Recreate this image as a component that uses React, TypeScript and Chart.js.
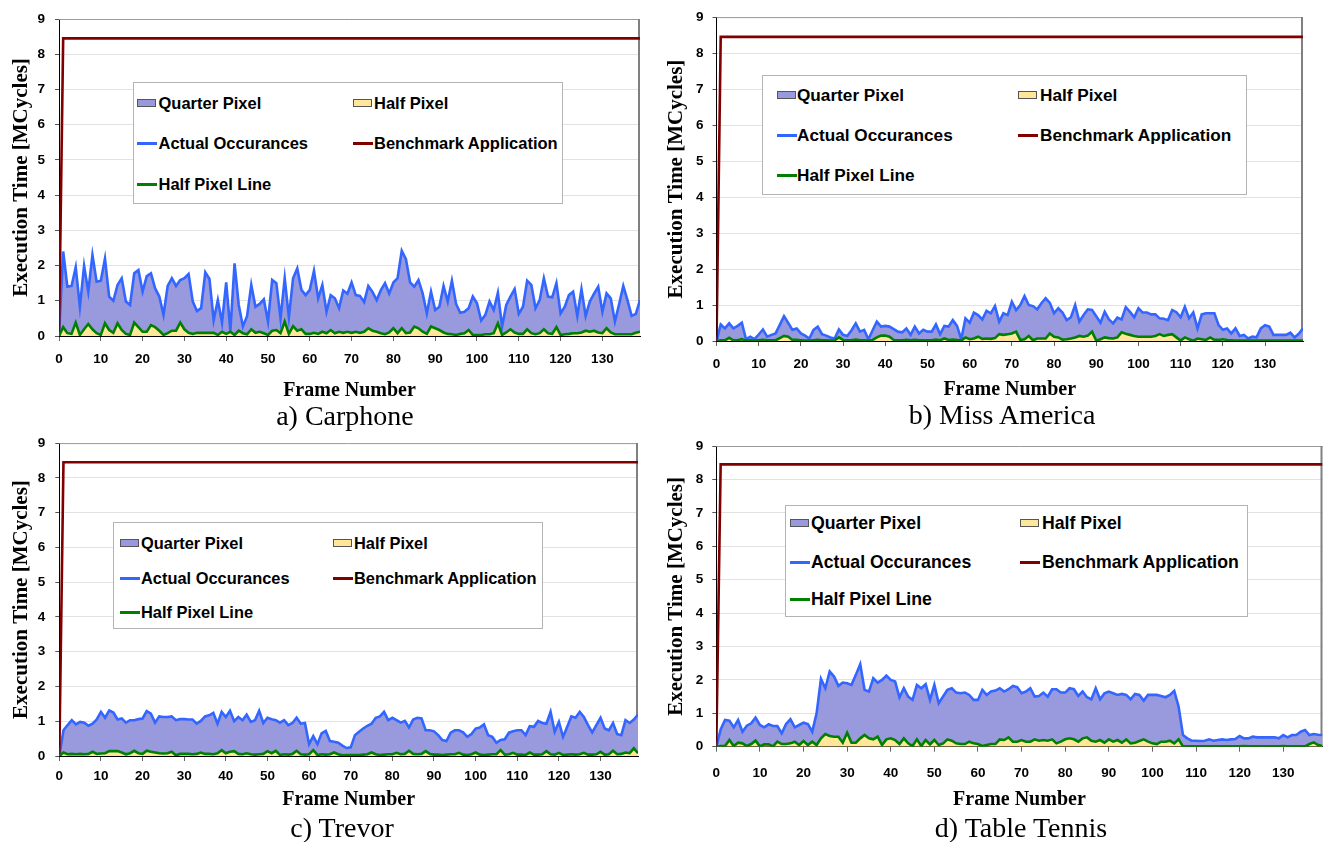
import React, { useEffect, useRef } from 'react';
import { Chart, registerables } from 'chart.js';

Chart.register(...registerables);

// ---------- data ----------
const FRAMES: number[] = Array.from({ length: 140 }, (_, i) => i);
const X_TICKS = [0, 10, 20, 30, 40, 50, 60, 70, 80, 90, 100, 110, 120, 130];
const Y_TICKS = [0, 1, 2, 3, 4, 5, 6, 7, 8, 9];

const LEGEND_LABELS = ['Quarter Pixel', 'Half Pixel', 'Actual Occurances', 'Benchmark Application', 'Half Pixel Line'];

const BENCHMARK = [
  0, 8.45, 8.45, 8.45, 8.45, 8.45, 8.45, 8.45, 8.45, 8.45,
  8.45, 8.45, 8.45, 8.45, 8.45, 8.45, 8.45, 8.45, 8.45, 8.45,
  8.45, 8.45, 8.45, 8.45, 8.45, 8.45, 8.45, 8.45, 8.45, 8.45,
  8.45, 8.45, 8.45, 8.45, 8.45, 8.45, 8.45, 8.45, 8.45, 8.45,
  8.45, 8.45, 8.45, 8.45, 8.45, 8.45, 8.45, 8.45, 8.45, 8.45,
  8.45, 8.45, 8.45, 8.45, 8.45, 8.45, 8.45, 8.45, 8.45, 8.45,
  8.45, 8.45, 8.45, 8.45, 8.45, 8.45, 8.45, 8.45, 8.45, 8.45,
  8.45, 8.45, 8.45, 8.45, 8.45, 8.45, 8.45, 8.45, 8.45, 8.45,
  8.45, 8.45, 8.45, 8.45, 8.45, 8.45, 8.45, 8.45, 8.45, 8.45,
  8.45, 8.45, 8.45, 8.45, 8.45, 8.45, 8.45, 8.45, 8.45, 8.45,
  8.45, 8.45, 8.45, 8.45, 8.45, 8.45, 8.45, 8.45, 8.45, 8.45,
  8.45, 8.45, 8.45, 8.45, 8.45, 8.45, 8.45, 8.45, 8.45, 8.45,
  8.45, 8.45, 8.45, 8.45, 8.45, 8.45, 8.45, 8.45, 8.45, 8.45,
  8.45, 8.45, 8.45, 8.45, 8.45, 8.45, 8.45, 8.45, 8.45, 8.45,
];

const CARPHONE_TOTAL = [
  0, 2.40, 1.40, 1.42, 1.95, 0.83, 1.99, 1.26, 2.30, 1.54,
  1.57, 2.20, 1.12, 1.00, 1.45, 1.64, 0.98, 0.88, 1.78, 1.87,
  1.26, 1.70, 1.78, 1.35, 1.12, 0.60, 1.42, 1.64, 1.42, 1.59,
  1.64, 1.76, 0.98, 0.71, 0.79, 1.81, 1.62, 0.45, 1.02, 0.38,
  1.52, 0.15, 2.06, 0.88, 0.27, 0.57, 1.45, 0.83, 0.91, 1.04,
  0.41, 1.59, 1.50, 0.50, 1.64, 0.53, 1.64, 1.92, 1.31, 1.16,
  1.31, 1.85, 1.07, 1.45, 0.69, 1.16, 1.07, 0.79, 1.29, 1.20,
  1.52, 1.16, 1.14, 0.96, 1.42, 1.25, 1.02, 1.30, 1.50, 1.21,
  1.52, 1.64, 2.42, 2.18, 1.52, 1.40, 1.59, 1.21, 0.64, 1.26,
  0.74, 0.83, 1.42, 0.98, 1.57, 0.91, 0.66, 0.69, 0.79, 1.12,
  0.93, 0.44, 0.60, 0.98, 0.74, 1.23, 0.27, 0.88, 1.12, 1.33,
  0.63, 0.83, 1.57, 1.45, 0.79, 1.02, 1.64, 1.12, 1.10, 1.50,
  0.64, 0.83, 1.16, 1.26, 0.57, 1.33, 0.57, 0.98, 1.20, 1.40,
  0.69, 1.21, 1.07, 0.41, 0.90, 1.42, 1.02, 0.57, 0.63, 1.02,
];
const CARPHONE_HALF = [
  0, 0.25, 0.08, 0.06, 0.38, 0.03, 0.19, 0.34, 0.19, 0.08,
  0.03, 0.36, 0.17, 0.09, 0.36, 0.17, 0.06, 0.03, 0.38, 0.25,
  0.12, 0.12, 0.31, 0.25, 0.15, 0.03, 0.08, 0.15, 0.15, 0.38,
  0.19, 0.09, 0.06, 0.09, 0.09, 0.09, 0.09, 0.09, 0.03, 0.12,
  0.06, 0.12, 0.03, 0.15, 0.08, 0.05, 0.19, 0.09, 0.12, 0.08,
  0.03, 0.15, 0.17, 0.08, 0.41, 0.06, 0.28, 0.15, 0.19, 0.06,
  0.06, 0.09, 0.06, 0.12, 0.08, 0.17, 0.08, 0.12, 0.09, 0.12,
  0.09, 0.12, 0.09, 0.12, 0.22, 0.15, 0.12, 0.08, 0.05, 0.10,
  0.22, 0.08, 0.22, 0.08, 0.10, 0.27, 0.22, 0.12, 0.06, 0.27,
  0.22, 0.17, 0.10, 0.06, 0.05, 0.03, 0.06, 0.08, 0.17, 0.03,
  0.03, 0.03, 0.05, 0.05, 0.08, 0.36, 0.03, 0.10, 0.19, 0.10,
  0.06, 0.06, 0.19, 0.08, 0.05, 0.08, 0.19, 0.08, 0.06, 0.25,
  0.03, 0.05, 0.06, 0.08, 0.08, 0.10, 0.15, 0.12, 0.15, 0.10,
  0.08, 0.22, 0.10, 0.05, 0.05, 0.05, 0.05, 0.05, 0.09, 0.12,
];

const MISS_AMERICA_TOTAL = [
  0, 0.46, 0.35, 0.49, 0.35, 0.42, 0.51, 0.05, 0.12, 0.05,
  0.18, 0.32, 0.12, 0.17, 0.21, 0.45, 0.69, 0.50, 0.31, 0.35,
  0.21, 0.15, 0.07, 0.31, 0.40, 0.19, 0.15, 0.10, 0.07, 0.32,
  0.17, 0.14, 0.30, 0.49, 0.26, 0.31, 0.05, 0.30, 0.54, 0.40,
  0.42, 0.40, 0.33, 0.26, 0.24, 0.35, 0.17, 0.40, 0.21, 0.31,
  0.26, 0.26, 0.46, 0.19, 0.42, 0.40, 0.58, 0.42, 0.05, 0.63,
  0.51, 0.79, 0.72, 0.60, 0.84, 0.77, 0.97, 0.54, 0.77, 0.72,
  1.09, 0.86, 1.00, 1.25, 1.00, 0.97, 0.88, 1.05, 1.19, 1.06,
  0.77, 0.91, 0.79, 0.58, 0.66, 1.00, 0.54, 0.72, 0.88, 0.86,
  0.69, 0.51, 0.81, 0.60, 0.49, 0.65, 0.60, 0.94, 0.81, 0.66,
  0.91, 0.79, 0.79, 0.74, 0.74, 0.63, 0.62, 0.58, 0.86, 0.80,
  0.66, 0.95, 0.63, 0.79, 0.35, 0.74, 0.77, 0.77, 0.77, 0.44,
  0.31, 0.35, 0.21, 0.35, 0.14, 0.17, 0.07, 0.12, 0.10, 0.35,
  0.44, 0.40, 0.17, 0.17, 0.17, 0.17, 0.23, 0.10, 0.20, 0.35,
];
const MISS_AMERICA_HALF = [
  0, 0.02, 0.02, 0.09, 0.02, 0.02, 0.05, 0.01, 0.02, 0.01,
  0.02, 0.03, 0.02, 0.02, 0.02, 0.08, 0.14, 0.12, 0.03, 0.03,
  0.02, 0.01, 0.01, 0.02, 0.03, 0.02, 0.02, 0.01, 0.02, 0.10,
  0.03, 0.02, 0.02, 0.04, 0.02, 0.02, 0.01, 0.03, 0.10, 0.15,
  0.15, 0.12, 0.03, 0.02, 0.02, 0.03, 0.02, 0.03, 0.02, 0.02,
  0.02, 0.02, 0.04, 0.02, 0.07, 0.03, 0.04, 0.03, 0.01, 0.10,
  0.05, 0.07, 0.12, 0.06, 0.07, 0.06, 0.08, 0.19, 0.17, 0.19,
  0.21, 0.26, 0.03, 0.05, 0.14, 0.02, 0.07, 0.07, 0.07, 0.21,
  0.12, 0.10, 0.04, 0.05, 0.07, 0.10, 0.14, 0.12, 0.15, 0.26,
  0.01, 0.05, 0.10, 0.08, 0.07, 0.10, 0.24, 0.20, 0.17, 0.14,
  0.12, 0.12, 0.12, 0.12, 0.14, 0.19, 0.14, 0.17, 0.19, 0.10,
  0.01, 0.10, 0.05, 0.01, 0.07, 0.05, 0.03, 0.10, 0.03, 0.03,
  0.05, 0.03, 0.02, 0.01, 0.01, 0.01, 0.01, 0.01, 0.01, 0.01,
  0.01, 0.01, 0.01, 0.01, 0.01, 0.01, 0.01, 0.01, 0.01, 0.01,
];

const TREVOR_TOTAL = [
  0, 0.74, 0.89, 1.03, 0.91, 0.98, 0.96, 0.87, 0.93, 1.05,
  1.27, 1.10, 1.31, 1.25, 1.05, 1.08, 0.96, 1.03, 1.03, 1.06,
  1.08, 1.29, 1.22, 0.96, 1.14, 1.12, 1.12, 1.14, 1.03, 1.06,
  1.06, 1.05, 1.05, 0.93, 1.01, 1.14, 1.17, 1.24, 0.93, 1.27,
  1.12, 1.30, 1.00, 1.12, 1.03, 1.19, 0.98, 1.03, 1.30, 0.95,
  1.10, 1.06, 1.03, 0.96, 1.03, 0.89, 0.95, 1.10, 0.93, 0.95,
  0.34, 0.57, 0.34, 0.65, 0.72, 0.43, 0.41, 0.38, 0.30, 0.23,
  0.25, 0.60, 0.70, 0.79, 0.87, 0.93, 1.10, 1.14, 1.27, 1.03,
  1.10, 1.03, 0.96, 1.01, 0.82, 1.05, 1.10, 1.08, 0.74, 0.74,
  0.71, 0.60, 0.46, 0.43, 0.67, 0.74, 0.74, 0.68, 0.55, 0.63,
  0.79, 0.82, 0.91, 0.60, 0.55, 0.38, 0.46, 0.48, 0.67, 0.71,
  0.74, 0.74, 0.60, 0.86, 0.84, 1.01, 0.95, 0.93, 1.27, 0.70,
  0.98, 0.55, 0.84, 1.14, 1.10, 1.27, 1.12, 0.89, 0.68, 0.89,
  1.10, 0.79, 0.74, 0.95, 0.63, 0.60, 1.03, 0.95, 1.05, 1.19,
];
const TREVOR_HALF = [
  0, 0.10, 0.05, 0.06, 0.05, 0.06, 0.05, 0.06, 0.12, 0.06,
  0.07, 0.08, 0.14, 0.14, 0.14, 0.10, 0.05, 0.08, 0.15, 0.08,
  0.06, 0.15, 0.12, 0.10, 0.08, 0.07, 0.08, 0.12, 0.02, 0.06,
  0.06, 0.06, 0.05, 0.06, 0.10, 0.06, 0.06, 0.05, 0.08, 0.17,
  0.08, 0.12, 0.14, 0.06, 0.05, 0.08, 0.05, 0.04, 0.05, 0.06,
  0.14, 0.08, 0.15, 0.03, 0.05, 0.04, 0.06, 0.15, 0.05, 0.04,
  0.05, 0.17, 0.03, 0.05, 0.04, 0.05, 0.10, 0.05, 0.02, 0.03,
  0.03, 0.03, 0.03, 0.04, 0.05, 0.10, 0.05, 0.03, 0.04, 0.05,
  0.05, 0.09, 0.05, 0.06, 0.15, 0.06, 0.05, 0.06, 0.14, 0.06,
  0.04, 0.04, 0.03, 0.04, 0.05, 0.05, 0.09, 0.04, 0.03, 0.05,
  0.10, 0.04, 0.03, 0.04, 0.05, 0.05, 0.17, 0.04, 0.05, 0.09,
  0.04, 0.04, 0.03, 0.10, 0.04, 0.04, 0.05, 0.14, 0.05, 0.04,
  0.09, 0.03, 0.04, 0.05, 0.04, 0.05, 0.09, 0.04, 0.04, 0.05,
  0.12, 0.04, 0.05, 0.15, 0.05, 0.06, 0.10, 0.08, 0.22, 0.08,
];

const TABLE_TENNIS_TOTAL = [
  0, 0.52, 0.80, 0.78, 0.58, 0.80, 0.45, 0.63, 0.70, 0.87,
  0.65, 0.58, 0.67, 0.62, 0.62, 0.40, 0.68, 0.82, 0.58, 0.65,
  0.72, 0.68, 0.45, 1.00, 2.03, 1.75, 2.25, 2.10, 1.82, 1.92,
  1.90, 1.85, 2.15, 2.47, 1.70, 1.65, 2.05, 1.92, 2.00, 2.13,
  2.00, 1.95, 1.48, 1.75, 1.50, 1.40, 1.85, 1.75, 1.87, 1.40,
  1.85, 1.30, 1.50, 1.70, 1.75, 1.62, 1.60, 1.62, 1.55, 1.40,
  1.40, 1.70, 1.55, 1.65, 1.68, 1.75, 1.65, 1.72, 1.82, 1.78,
  1.60, 1.65, 1.75, 1.50, 1.52, 1.62, 1.50, 1.72, 1.72, 1.62,
  1.62, 1.75, 1.72, 1.52, 1.65, 1.48, 1.42, 1.75, 1.42, 1.60,
  1.65, 1.60, 1.55, 1.58, 1.55, 1.42, 1.58, 1.55, 1.38, 1.55,
  1.55, 1.55, 1.52, 1.48, 1.55, 1.67, 1.20, 0.35, 0.25, 0.18,
  0.18, 0.17, 0.18, 0.22, 0.18, 0.20, 0.22, 0.20, 0.22, 0.23,
  0.32, 0.25, 0.25, 0.30, 0.28, 0.28, 0.28, 0.28, 0.28, 0.25,
  0.35, 0.28, 0.35, 0.35, 0.45, 0.50, 0.35, 0.38, 0.36, 0.35,
];
const TABLE_TENNIS_HALF = [
  0, 0.02, 0.02, 0.20, 0.02, 0.12, 0.10, 0.02, 0.08, 0.18,
  0.01, 0.07, 0.07, 0.01, 0.15, 0.08, 0.08, 0.10, 0.15, 0.05,
  0.17, 0.05, 0.15, 0.05, 0.25, 0.38, 0.32, 0.30, 0.30, 0.12,
  0.42, 0.12, 0.12, 0.25, 0.35, 0.25, 0.22, 0.30, 0.05, 0.22,
  0.25, 0.20, 0.08, 0.25, 0.10, 0.02, 0.22, 0.02, 0.20, 0.07,
  0.20, 0.05, 0.10, 0.22, 0.18, 0.10, 0.08, 0.08, 0.15, 0.10,
  0.08, 0.02, 0.05, 0.08, 0.08, 0.22, 0.20, 0.28, 0.15, 0.15,
  0.20, 0.15, 0.15, 0.22, 0.18, 0.20, 0.18, 0.22, 0.10, 0.15,
  0.22, 0.25, 0.22, 0.15, 0.25, 0.28, 0.18, 0.15, 0.20, 0.12,
  0.22, 0.15, 0.20, 0.12, 0.22, 0.10, 0.12, 0.17, 0.22, 0.15,
  0.10, 0.08, 0.15, 0.15, 0.18, 0.10, 0.22, 0.01, 0.01, 0.01,
  0.01, 0.01, 0.01, 0.01, 0.01, 0.01, 0.01, 0.01, 0.01, 0.01,
  0.01, 0.02, 0.01, 0.01, 0.01, 0.01, 0.01, 0.01, 0.01, 0.01,
  0.02, 0.01, 0.01, 0.01, 0.01, 0.01, 0.08, 0.13, 0.05, 0.02,
];

// ---------- styles ----------
const SANS = '"Liberation Sans", Arial, Helvetica, sans-serif';
const SERIF = '"Liberation Serif", "Times New Roman", Times, serif';
const LAVENDER = '#9999DD';
const YELLOW = '#FFE699';
const BLUE = '#3366FF';
const RED = '#800000';
const GREEN = '#008000';

type Panel = {
  caption: string;
  total: number[];
  half: number[];
  canvas: { left: number; top: number; width: number; height: number };
  plot: { l: number; r: number; t: number; b: number };
  xTickPad: number;
  xTitlePad: number;
  yTitlePad: number;
  yTickPad: number;
  legend: { left: number; top: number; width: number; height: number; font: number; rows: number[]; sw: number[]; tx: number[] };
  captionX: number;
  captionBase: number;
};

const PANELS: Panel[] = [
  {
    caption: 'a) Carphone', total: CARPHONE_TOTAL, half: CARPHONE_HALF,
    canvas: { left: 0, top: 0, width: 650, height: 405 },
    plot: { l: 59, r: 640, t: 19, b: 336 },
    xTickPad: 10, xTitlePad: 2, yTitlePad: 9, yTickPad: 10,
    legend: { left: 133, top: 82, width: 430, height: 122, font: 16.5, rows: [102.5, 143.2, 184.2], sw: [137, 353], tx: [158.5, 374] },
    captionX: 345, captionBase: 425,
  },
  {
    caption: 'b) Miss America', total: MISS_AMERICA_TOTAL, half: MISS_AMERICA_HALF,
    canvas: { left: 660, top: 0, width: 664, height: 405 },
    plot: { l: 716.5, r: 1303, t: 17, b: 341 },
    xTickPad: 10, xTitlePad: 3, yTitlePad: 3.5, yTickPad: 9,
    legend: { left: 762, top: 75, width: 485, height: 120, font: 17.2, rows: [95, 135, 175], sw: [777, 1018], tx: [797, 1040] },
    captionX: 1002, captionBase: 424,
  },
  {
    caption: 'c) Trevor', total: TREVOR_TOTAL, half: TREVOR_HALF,
    canvas: { left: 0, top: 425, width: 650, height: 390 },
    plot: { l: 59.3, r: 638, t: 441, b: 756 },
    xTickPad: 7, xTitlePad: 3, yTitlePad: 8.5, yTickPad: 10,
    legend: { left: 113, top: 522, width: 430, height: 107, font: 16.4, rows: [543, 578, 612], sw: [120, 333], tx: [141, 354] },
    captionX: 342, captionBase: 837,
  },
  {
    caption: 'd) Table Tennis', total: TABLE_TENNIS_TOTAL, half: TABLE_TENNIS_HALF,
    canvas: { left: 660, top: 425, width: 664, height: 390 },
    plot: { l: 716.3, r: 1322.5, t: 446, b: 746.7 },
    xTickPad: 13, xTitlePad: 3, yTitlePad: 3.5, yTickPad: 9,
    legend: { left: 785, top: 505, width: 463, height: 112, font: 17.7, rows: [523, 562, 599], sw: [790, 1020], tx: [811, 1042] },
    captionX: 1021, captionBase: 837,
  },
];

const framePlugin = {
  id: 'plotFrame',
  beforeDatasetsDraw(chart: any) {
    const { ctx, chartArea } = chart;
    const { left, right, top, bottom } = chartArea;
    ctx.save();
    ctx.strokeStyle = '#9a9a9a';
    ctx.lineWidth = 1;
    ctx.beginPath();
    ctx.moveTo(left, top + 0.5);
    ctx.lineTo(right, top + 0.5);
    ctx.stroke();
    ctx.strokeStyle = '#808080';
    ctx.lineWidth = 2;
    ctx.beginPath();
    ctx.moveTo(right - 1, top);
    ctx.lineTo(right - 1, bottom);
    ctx.stroke();
    ctx.restore();
  },
};

function ChartPanel({ p }: { p: Panel }) {
  const ref = useRef<HTMLCanvasElement | null>(null);

  useEffect(() => {
    if (!ref.current) return;
    const c = p.canvas;
    const tickFont = { family: SANS, size: 13.5, weight: 'bold' as const };
    const chart = new Chart(ref.current, {
      type: 'line',
      data: {
        labels: FRAMES,
        datasets: [
          { label: LEGEND_LABELS[0], data: p.total, borderWidth: 0, borderColor: 'rgba(0,0,0,0)', backgroundColor: LAVENDER, fill: 1, pointRadius: 0, tension: 0, order: 5 },
          { label: LEGEND_LABELS[1], data: p.half, borderWidth: 0, borderColor: 'rgba(0,0,0,0)', backgroundColor: YELLOW, fill: 'origin', pointRadius: 0, tension: 0, order: 4 },
          { label: LEGEND_LABELS[2], data: p.total, borderColor: BLUE, borderWidth: 2.6, fill: false, pointRadius: 0, tension: 0, order: 3 },
          { label: LEGEND_LABELS[3], data: BENCHMARK, borderColor: RED, borderWidth: 2.6, fill: false, pointRadius: 0, tension: 0, order: 2 },
          { label: LEGEND_LABELS[4], data: p.half, borderColor: GREEN, borderWidth: 2.6, fill: false, pointRadius: 0, tension: 0, order: 1 },
        ],
      },
      options: {
        animation: false,
        responsive: false,
        maintainAspectRatio: false,
        layout: { padding: { left: 0, top: p.plot.t - c.top, right: c.left + c.width - p.plot.r, bottom: 0 } },
        plugins: { legend: { display: false }, tooltip: { enabled: false }, title: { display: false } },
        scales: {
          x: {
            type: 'linear',
            min: 0,
            max: 139,
            afterBuildTicks: (s: any) => { s.ticks = X_TICKS.map((v) => ({ value: v })); },
            afterFit: (s: any) => { s.height = c.top + c.height - p.plot.b; },
            ticks: { font: tickFont, color: '#000', padding: p.xTickPad, maxRotation: 0, autoSkip: false },
            grid: { display: true, drawOnChartArea: false, drawTicks: true, tickLength: 5, tickColor: '#666' },
            border: { display: true, color: '#000', width: 1 },
            title: { display: true, text: 'Frame Number', color: '#000', font: { family: SERIF, size: 20, weight: 'bold' }, padding: { top: 0, bottom: p.xTitlePad } },
          },
          y: {
            type: 'linear',
            min: 0,
            max: 9,
            afterBuildTicks: (s: any) => { s.ticks = Y_TICKS.map((v) => ({ value: v })); },
            afterFit: (s: any) => { s.width = p.plot.l - c.left; },
            ticks: { font: tickFont, color: '#000', padding: p.yTickPad },
            grid: { color: '#e2e2e2', drawTicks: true, tickLength: 4, tickColor: '#555' },
            border: { display: true, color: '#000', width: 1 },
            title: { display: true, text: 'Execution Time [MCycles]', color: '#000', font: { family: SERIF, size: 21, weight: 'bold' }, padding: { top: p.yTitlePad, bottom: 0 } },
          },
        },
      },
      plugins: [framePlugin],
    } as any);
    return () => chart.destroy();
  }, [p]);

  const L = p.legend;
  const items = [
    { kind: 'box', color: LAVENDER, label: LEGEND_LABELS[0], col: 0, row: 0 },
    { kind: 'box', color: YELLOW, label: LEGEND_LABELS[1], col: 1, row: 0 },
    { kind: 'line', color: BLUE, label: LEGEND_LABELS[2], col: 0, row: 1 },
    { kind: 'line', color: RED, label: LEGEND_LABELS[3], col: 1, row: 1 },
    { kind: 'line', color: GREEN, label: LEGEND_LABELS[4], col: 0, row: 2 },
  ];
  const lh = 22;

  return (
    <>
      <canvas
        ref={ref}
        width={p.canvas.width}
        height={p.canvas.height}
        style={{ position: 'absolute', left: p.canvas.left, top: p.canvas.top, width: p.canvas.width, height: p.canvas.height }}
      />
      <div
        style={{
          position: 'absolute', left: L.left, top: L.top, width: L.width, height: L.height,
          boxSizing: 'border-box', border: '1px solid #b4b4b4', background: '#fff',
        }}
      >
        {items.map((it, i) => {
          const cy = L.rows[it.row] - L.top - 1;
          const sx = L.sw[it.col] - L.left - 1;
          const tx = L.tx[it.col] - L.left - 1;
          return (
            <React.Fragment key={i}>
              {it.kind === 'box' ? (
                <div style={{ position: 'absolute', left: sx, top: cy - 4, width: 19, height: 8, boxSizing: 'border-box', background: it.color, border: '1px solid #555' }} />
              ) : (
                <div style={{ position: 'absolute', left: sx, top: cy - 1.5, width: 20, height: 3, background: it.color }} />
              )}
              <div
                style={{
                  position: 'absolute', left: tx, top: cy - lh / 2, height: lh, lineHeight: lh + 'px',
                  whiteSpace: 'nowrap', fontFamily: SANS, fontWeight: 'bold', fontSize: L.font, color: '#000',
                }}
              >
                {it.label}
              </div>
            </React.Fragment>
          );
        })}
      </div>
      <div
        style={{
          position: 'absolute', left: p.captionX - 200, width: 400, top: p.captionBase - 25, height: 31,
          lineHeight: '31px', textAlign: 'center', fontFamily: SERIF, fontSize: 28, color: '#000', whiteSpace: 'nowrap',
        }}
      >
        {p.caption}
      </div>
    </>
  );
}

export default function App() {
  return (
    <div style={{ position: 'absolute', left: 0, top: 0, width: 1324, height: 842, overflow: 'hidden', background: '#fff' }}>
      {PANELS.map((p, i) => (
        <ChartPanel key={i} p={p} />
      ))}
    </div>
  );
}
